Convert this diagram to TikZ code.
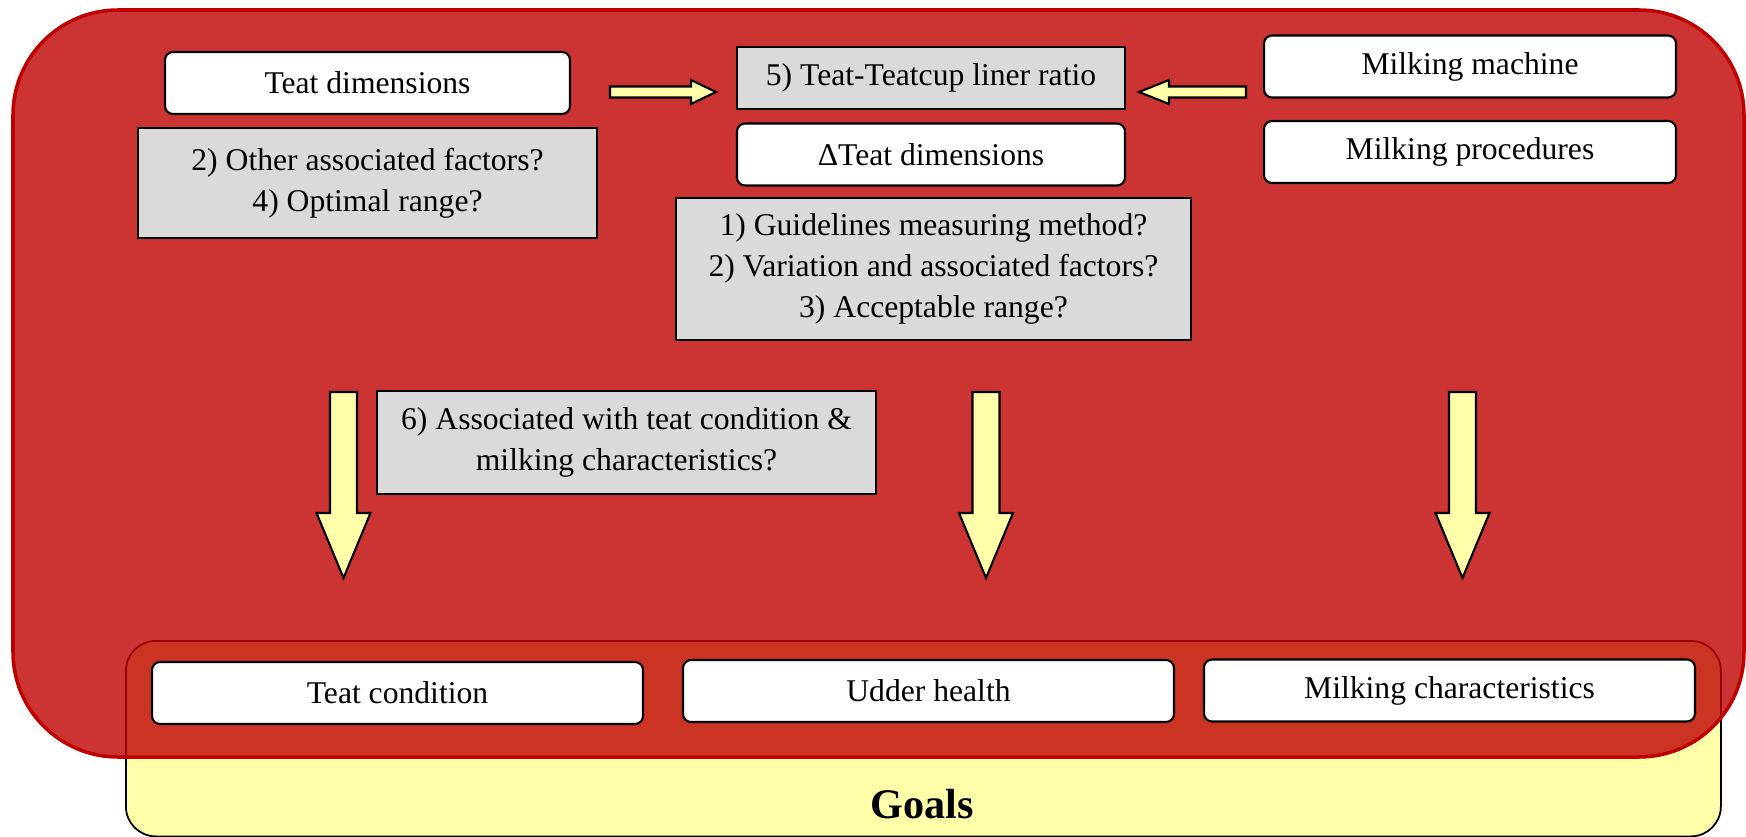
\documentclass[tikz,border=0pt]{standalone}
\usepackage{fontspec}
\setmainfont{Liberation Serif}
\usetikzlibrary{arrows,shapes}
\definecolor{boxgrey}{RGB}{218,218,218}
\definecolor{paleyellow}{RGB}{255,255,170}
\definecolor{framered}{RGB}{191,0,0}
\tikzstyle{white box}=[draw,rounded corners=0.08cm,fill=white,line width=0.6pt,inner sep=0pt,align=center,font=\fontsize{9}{11.7}\selectfont]
\tikzstyle{grey box}=[white box,sharp corners,fill=boxgrey]
\tikzstyle{block arrow}=[draw,fill=paleyellow,line width=0.6pt,line join=miter]
\begin{document}
\begin{tikzpicture}
    \useasboundingbox (0,0) rectangle (17.46,-8.37);
    % Goals box goes first, the red frame lies over it
    \node[draw, rounded corners=0.3cm, fill=paleyellow, line width=0.5pt, minimum width=15.95cm, minimum height=1.955cm, anchor=north west] (goalbox) at (1.25,-6.40) {};
    \node[font=\fontsize{12}{14}\selectfont\bfseries] (goals) at (9.225,-8.04) {Goals};
    \draw[draw=framered, fill=framered, fill opacity=0.8, line width=1pt, rounded corners=1.05cm] (0.13,-0.10) rectangle (17.44,-7.57);

    % White boxes
    \foreach \pos/\name/\w/\txt in {{(3.675,-0.83)/tdim/4.05/Teat dimensions}, {(9.31,-1.545)/dtdim/3.88/ΔTeat dimensions}, {(14.70,-0.665)/machine/4.12/Milking machine}, {(14.70,-1.52)/proc/4.12/Milking procedures}, {(3.975,-6.93)/tcond/4.91/Teat condition}, {(9.285,-6.91)/udder/4.91/Udder health}, {(14.495,-6.905)/milkchar/4.91/Milking characteristics}}
        \node[white box, minimum width=\w cm, minimum height=0.62cm] (\name) at \pos {\txt};

    % Grey boxes with the questions
    \node[grey box, minimum width=4.59cm, minimum height=1.10cm] (tdimq) at (3.675,-1.83) {2) Other associated factors?\\4) Optimal range?};
    \node[grey box, minimum width=3.88cm, minimum height=0.62cm] (ratio) at (9.31,-0.78) {5) Teat-Teatcup liner ratio};
    \node[grey box, minimum width=5.15cm, minimum height=1.42cm] (dtdimq) at (9.335,-2.69) {1) Guidelines measuring method?\\2) Variation and associated factors?\\3) Acceptable range?};
    \node[grey box, minimum width=4.99cm, minimum height=1.03cm] (assocq) at (6.265,-4.425) {6) Associated with teat condition \&\\milking characteristics?};

    % Arrows into the ratio box
    \draw[block arrow] (6.10,-0.865) -- (6.91,-0.865) -- (6.91,-0.80) -- (7.16,-0.92) -- (6.91,-1.04) -- (6.91,-0.975) -- (6.10,-0.975) -- cycle;
    \draw[block arrow] (12.46,-0.865) -- (11.69,-0.865) -- (11.69,-0.80) -- (11.39,-0.92) -- (11.69,-1.04) -- (11.69,-0.975) -- (12.46,-0.975) -- cycle;

    % Arrows down to the goals
    \foreach \x in {3.435,9.86,14.625}
        \draw[block arrow] (\x-0.135,-3.92) -- (\x+0.135,-3.92) -- (\x+0.135,-5.13) -- (\x+0.27,-5.13) -- (\x,-5.78) -- (\x-0.27,-5.13) -- (\x-0.135,-5.13) -- cycle;
\end{tikzpicture}
\end{document}
